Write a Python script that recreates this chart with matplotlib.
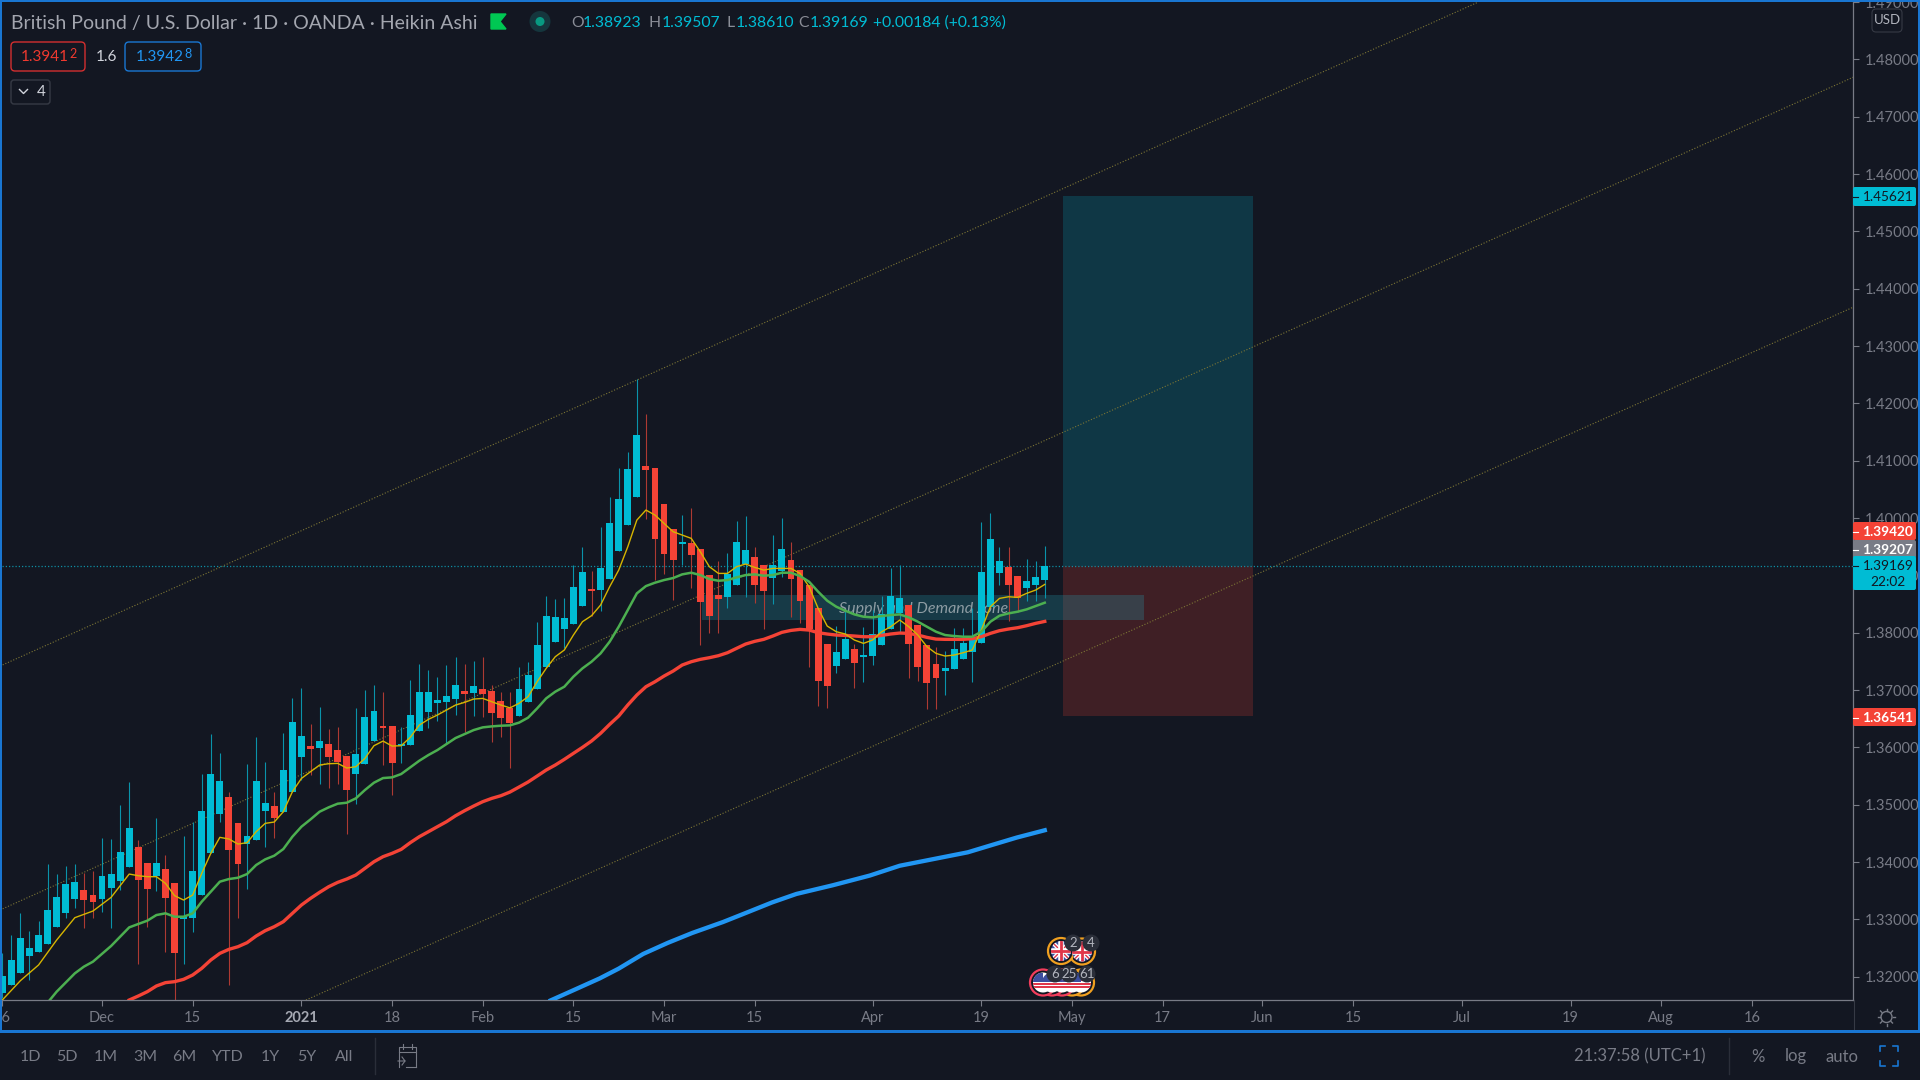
import numpy as np
import matplotlib
matplotlib.use('Agg')
import matplotlib.pyplot as plt
from matplotlib.patches import Rectangle, FancyBboxPatch, Circle

plt.rcParams['font.family'] = ['Lato', 'DejaVu Sans']

# candles, one row per bar: open, high, low, close
opens = [1.31723,1.31857,1.32072,1.32363,1.32432,1.32572,1.32868,1.33112,1.33356,1.33513,
         1.33426,1.33356,1.33548,1.33670,1.33914,1.34263,1.33984,1.33757,1.33880,1.33635,
         1.33014,1.33025,1.33426,1.34158,1.34839,1.35135,1.34682,1.34315,1.34385,1.34891,
         1.34978,1.34873,1.35222,1.35832,1.36024,1.35995,1.36059,1.35954,1.35850,1.35536,
         1.35710,1.36111,1.36373,1.36373,1.36024,1.36042,1.36286,1.36617,1.36774,1.36791,
         1.36844,1.36983,1.36948,1.37018,1.36983,1.36815,1.36681,1.36554,1.36786,1.37013,
         1.37396,1.37832,1.38059,1.38146,1.38460,1.38762,1.38745,1.38931,1.39419,1.39878,
         1.40366,1.40913,1.40878,1.40244,1.39808,1.39541,1.39570,1.39465,1.39006,1.38658,
         1.38617,1.38826,1.39192,1.39326,1.39181,1.38948,1.39070,1.39274,1.39099,1.38832,
         1.38431,1.37803,1.37425,1.37547,1.37722,1.37582,1.37600,1.37792,1.38059,1.38338,
         1.38489,1.38134,1.37786,1.37460,1.37338,1.37361,1.37536,1.37669,1.37815,1.38454,
         1.39035,1.39152,1.38995,1.38785,1.38838,1.38923]
highs = [1.32421,1.32729,1.33107,1.32798,1.32973,1.33967,1.33792,1.33932,1.33967,1.33816,
         1.33845,1.34420,1.34403,1.34995,1.35396,1.34385,1.33984,1.34769,1.34124,1.33635,
         1.34455,1.34705,1.35536,1.36233,1.35902,1.35222,1.34682,1.35710,1.36181,1.35745,
         1.35222,1.36251,1.36861,1.37035,1.36408,1.36704,1.36321,1.36355,1.35850,1.36687,
         1.37001,1.37088,1.36966,1.36373,1.36355,1.37175,1.37454,1.37349,1.37227,1.37436,
         1.37576,1.37454,1.37506,1.37576,1.37088,1.36972,1.36972,1.37396,1.37495,1.38193,
         1.38640,1.38594,1.38605,1.39186,1.39500,1.39082,1.39849,1.40360,1.40866,1.41157,
         1.42418,1.41808,1.40878,1.40244,1.39808,1.40052,1.40169,1.39465,1.39006,1.39256,
         1.39384,1.39954,1.40041,1.39489,1.39181,1.39710,1.40006,1.39587,1.39099,1.38832,
         1.38431,1.37803,1.38117,1.38384,1.37803,1.38105,1.38396,1.38640,1.39128,1.39181,
         1.38489,1.38134,1.37786,1.37757,1.37687,1.38076,1.38076,1.38425,1.39925,1.40081,
         1.39489,1.39489,1.38995,1.39291,1.39245,1.39507]
lows = [1.31624,1.31857,1.32072,1.31944,1.32432,1.32572,1.32868,1.33025,1.33200,1.32851,
        1.33025,1.33130,1.32851,1.33513,1.33914,1.32223,1.32868,1.33496,1.32432,1.31550,
        1.32223,1.32781,1.33426,1.34158,1.34699,1.31857,1.33025,1.33531,1.34385,1.34263,
        1.34420,1.34873,1.35222,1.35431,1.35518,1.35362,1.35292,1.35362,1.34490,1.35013,
        1.35710,1.36111,1.35693,1.35170,1.35728,1.36042,1.36286,1.36338,1.36460,1.36076,
        1.36565,1.36268,1.36547,1.36536,1.36094,1.36187,1.35641,1.36554,1.36786,1.37013,
        1.37396,1.37832,1.37728,1.38146,1.38460,1.38291,1.38373,1.38931,1.39419,1.39878,
        1.40366,1.39977,1.38919,1.39024,1.38570,1.39186,1.38780,1.37780,1.37989,1.38001,
        1.38437,1.38826,1.38628,1.38512,1.38070,1.38495,1.38977,1.38280,1.38164,1.37396,
        1.36728,1.36693,1.37292,1.37547,1.37042,1.37146,1.37443,1.37792,1.38059,1.38018,
        1.37216,1.37164,1.36670,1.36670,1.36920,1.37361,1.37536,1.37146,1.37815,1.38454,
        1.38838,1.38210,1.38367,1.38559,1.38559,1.38610]
closes = [1.32014,1.32293,1.32676,1.32502,1.32729,1.33165,1.33391,1.33618,1.33653,1.33339,
          1.33304,1.33757,1.33792,1.34176,1.34594,1.33688,1.33531,1.33984,1.33374,1.32415,
          1.33060,1.33845,1.34891,1.35536,1.35414,1.34211,1.33967,1.34455,1.35414,1.35030,
          1.34769,1.35606,1.36443,1.36199,1.35972,1.36111,1.35832,1.35745,1.35257,1.35885,
          1.36530,1.36634,1.36338,1.35728,1.36059,1.36565,1.36966,1.36966,1.36826,1.36896,
          1.37088,1.36931,1.37070,1.36931,1.36600,1.36519,1.36432,1.37019,1.37263,1.37786,
          1.38291,1.38280,1.38262,1.38797,1.39059,1.38721,1.39128,1.39919,1.40337,1.40860,
          1.41441,1.40831,1.39628,1.39367,1.39262,1.39587,1.39349,1.38530,1.38297,1.38594,
          1.39024,1.39587,1.39448,1.38838,1.38721,1.39181,1.39465,1.38931,1.38547,1.38059,
          1.37164,1.37077,1.37669,1.37896,1.37466,1.37617,1.37978,1.38326,1.38640,1.38611,
          1.37797,1.37408,1.37129,1.37216,1.37385,1.37716,1.37821,1.37885,1.39064,1.39640,
          1.39245,1.38838,1.38599,1.38907,1.38977,1.39169]

# moving averages, read bar by bar
yellow_x = [0,2,4,6,8,10,12] + list(range(14, 116))
yellow_y = [1.31595,1.31933,1.32206,1.32642,1.33031,1.33147,1.33385,1.33792,1.33763,1.33746,
            1.33746,1.33630,1.33415,1.33339,1.33426,1.33804,1.34153,1.34432,1.34403,1.34315,
            1.34339,1.34530,1.34676,1.34699,1.34879,1.35228,1.35460,1.35577,1.35693,1.35716,
            1.35722,1.35641,1.35664,1.35809,1.36030,1.36111,1.36024,1.36030,1.36175,1.36390,
            1.36489,1.36565,1.36652,1.36739,1.36786,1.36844,1.36855,1.36797,1.36740,1.36690,
            1.36769,1.36885,1.37146,1.37379,1.37582,1.37699,1.37960,1.38193,1.38297,1.38483,
            1.38803,1.39093,1.39500,1.39965,1.40140,1.40052,1.39907,1.39762,1.39704,1.39646,
            1.39413,1.39152,1.39035,1.39035,1.39152,1.39198,1.39140,1.39093,1.39122,1.39122,
            1.39122,1.39035,1.38803,1.38425,1.38117,1.38018,1.37978,1.37873,1.37815,1.37873,
            1.38018,1.38105,1.38222,1.38105,1.37960,1.37757,1.37640,1.37594,1.37611,1.37652,
            1.37699,1.38047,1.38454,1.38599,1.38628,1.38617,1.38687,1.38745,1.38843]
green_x = [5,6,8,9,10,12] + list(range(14, 116))
green_y = [1.31549,1.31741,1.32060,1.32177,1.32264,1.32537,1.32862,1.32921,1.32979,1.33077,
           1.33107,1.33048,1.33048,1.33107,1.33310,1.33484,1.33659,1.33705,1.33728,1.33792,
           1.33949,1.34048,1.34112,1.34228,1.34443,1.34618,1.34745,1.34879,1.34955,1.35019,
           1.35036,1.35112,1.35257,1.35385,1.35466,1.35478,1.35536,1.35652,1.35768,1.35867,
           1.35954,1.36059,1.36164,1.36233,1.36303,1.36350,1.36367,1.36379,1.36385,1.36432,
           1.36519,1.36681,1.36856,1.36972,1.37059,1.37234,1.37379,1.37495,1.37640,1.37844,
           1.38105,1.38396,1.38687,1.38814,1.38873,1.38919,1.38954,1.39018,1.39047,1.39006,
           1.38937,1.38907,1.38919,1.38966,1.39006,1.39018,1.38995,1.39006,1.39047,1.39047,
           1.38989,1.38890,1.38716,1.38559,1.38454,1.38384,1.38320,1.38280,1.38268,1.38291,
           1.38309,1.38320,1.38268,1.38193,1.38105,1.38018,1.37960,1.37943,1.37931,1.37931,
           1.38018,1.38193,1.38297,1.38338,1.38367,1.38408,1.38466,1.38524]
red_x = list(range(14, 116))
red_y = [1.31595,1.31665,1.31741,1.31840,1.31898,1.31915,1.31956,1.32031,1.32148,1.32293,
         1.32409,1.32479,1.32525,1.32595,1.32711,1.32804,1.32874,1.32961,1.33107,1.33252,
         1.33368,1.33473,1.33571,1.33647,1.33705,1.33775,1.33891,1.34007,1.34095,1.34153,
         1.34222,1.34339,1.34443,1.34530,1.34618,1.34705,1.34809,1.34897,1.34978,1.35054,
         1.35112,1.35158,1.35222,1.35309,1.35397,1.35501,1.35606,1.35693,1.35792,1.35897,
         1.36001,1.36112,1.36246,1.36402,1.36548,1.36740,1.36914,1.37059,1.37146,1.37245,
         1.37332,1.37437,1.37495,1.37536,1.37565,1.37600,1.37652,1.37728,1.37803,1.37850,
         1.37885,1.37943,1.38007,1.38041,1.38059,1.38047,1.38001,1.37978,1.37960,1.37954,
         1.37943,1.37931,1.37931,1.37954,1.37978,1.37995,1.37989,1.37960,1.37919,1.37890,
         1.37885,1.37885,1.37885,1.37896,1.37931,1.37989,1.38036,1.38065,1.38088,1.38123,
         1.38164,1.38198]
blue_x = [60.5,63.2,65.9,68,70.7,73.4,76.1,79.5,82.2,84.9,87.6,91.6,95.7,99,102.4,106.5,109.2,111.9,115]
blue_y = [1.31589,1.31780,1.31972,1.32143,1.32399,1.32591,1.32764,1.32955,1.33125,1.33296,
          1.33445,1.33596,1.33766,1.33937,1.34043,1.34171,1.34300,1.34428,1.34556]

# channel lines: bar and price of two anchors
channel_x = [[-0.25, 162.8], [-0.25, 204.2], [33.5, 204.2]]
channel_y = [[1.37419, 1.48997], [1.33165, 1.47690], [1.31595, 1.43679]]

# long position and zone
pos_x = [117, 138]
pos_top, pos_entry, pos_stop = 1.45621, 1.39169, 1.36541
zone_x = [77.2, 125.9]
zone_y = [1.38221, 1.38657]

price_ticks = [1.32 + 0.01*i for i in range(18)]
date_ticks = [0, 11, 21, 33, 43, 53, 63, 73, 83, 96, 108, 118, 128, 139, 149, 161, 173, 183, 193]
date_labels = ['16', 'Dec', '15', '2021', '18', 'Feb', '15', 'Mar', '15', 'Apr', '19', 'May',
               '17', 'Jun', '15', 'Jul', '19', 'Aug', '16']
ranges = ['1D', '5D', '1M', '3M', '6M', 'YTD', '1Y', '5Y', 'All']
range_pos = [30, 67, 106, 145, 184, 228, 270, 307, 344]

BG = '#131722'
CYAN = '#00bcd4'
RED = '#f44336'
GREY = '#787b86'

W, H = 1920, 1080
fig = plt.figure(figsize=(19.2, 10.8), dpi=100, facecolor=BG)
ax = fig.add_axes([2/W, 1 - 1000/H, (1853 - 2)/W, (1000 - 2)/H], facecolor=BG)
ax.set_xlim((2 - 2.3)/9.065, (1853 - 2.3)/9.065)
ax.set_ylim(1.40 - 482/5735, 1.40 + 516/5735)

for s in ['left', 'top']:
    ax.spines[s].set_visible(False)
for s in ['right', 'bottom']:
    ax.spines[s].set_color(GREY)
    ax.spines[s].set_linewidth(0.9)

# drawings under the candles
ax.add_patch(Rectangle((pos_x[0], pos_entry), pos_x[1] - pos_x[0], pos_top - pos_entry,
                       fc='#00bcd4', alpha=0.2, lw=0, zorder=1))
ax.add_patch(Rectangle((pos_x[0], pos_stop), pos_x[1] - pos_x[0], pos_entry - pos_stop,
                       fc='#f44336', alpha=0.2, lw=0, zorder=1))
ax.add_patch(Rectangle((zone_x[0], zone_y[0]), zone_x[1] - zone_x[0], zone_y[1] - zone_y[0],
                       fc='#26a3b8', alpha=0.25, lw=0, zorder=1.5))
ax.text(101.6, 1.38416, 'Supply and Demand zone', color='#8d9ca3', style='italic',
        fontsize=11.5, ha='center', va='center', zorder=1.6)
for cx, cy in zip(channel_x, channel_y):
    ax.plot(cx, cy, color='#7d7635', lw=0.8, ls=(0, (1, 1.6)), zorder=1.7)
ax.axhline(closes[-1], color='#0e8ea3', lw=0.9, ls=(0, (1, 1.6)), zorder=1.8)

# candles
idx = np.arange(len(opens))
op, hi, lo, cl = map(np.array, (opens, highs, lows, closes))
cols = np.where(cl >= op, CYAN, RED)
wick_cols = np.where(cl >= op, '#0a93aa', '#ad3a33')
ax.vlines(idx, lo, hi, colors=wick_cols, lw=0.8, zorder=2)
ax.bar(idx, np.abs(cl - op), bottom=np.minimum(op, cl), width=0.76, color=cols, lw=0, zorder=3)

# moving averages
ax.plot(blue_x, blue_y, color='#2196f3', lw=3.1, zorder=4)
ax.plot(red_x, red_y, color=RED, lw=2.4, zorder=4.1)
ax.plot(green_x, green_y, color='#4caf50', lw=1.8, zorder=4.2)
ax.plot(yellow_x, yellow_y, color='#d6b500', lw=1.0, zorder=4.15)

ax.yaxis.tick_right()
ax.set_yticks(price_ticks)
ax.set_yticklabels(['%.5f' % p for p in price_ticks], va='center_baseline')
ax.set_xticks(date_ticks)
ax.set_xticklabels(date_labels)
ax.tick_params(axis='y', colors=GREY, length=4.5, width=0.8, labelsize=10.5, pad=4)
ax.tick_params(axis='x', colors=GREY, length=4.5, width=0.8, labelsize=10.5, pad=3.5)
for t in ax.get_xticklabels():
    if t.get_text() == '2021':
        t.set_color('#a6a9b3')
        t.set_fontweight('bold')

# screen furniture in pixel coordinates
ui = fig.add_axes([0, 0, 1, 1], facecolor='none', zorder=10)
ui.set_xlim(0, W)
ui.set_ylim(H, 0)
ui.axis('off')

def tag(y0, y1, color, lines, tcolor):
    ui.add_patch(FancyBboxPatch((1853, y0), 63, y1 - y0, boxstyle='round,pad=0,rounding_size=2',
                                fc=color, ec='none', zorder=2))
    ui.plot([1853, 1858], [y0 + 9.5, y0 + 9.5], color=tcolor, lw=0.8, zorder=3)
    for k, s in enumerate(lines):
        ui.text(1888, y0 + 10 + k*16.5, s, color=tcolor, fontsize=9.8, ha='center', va='center',
                fontweight='bold' if tcolor == 'white' else 'normal', zorder=3)

tag(187, 206, CYAN, ['1.45621'], BG)
tag(522, 540, RED, ['1.39420'], 'white')
tag(540, 558, GREY, ['1.39207'], 'white')
tag(556, 590, CYAN, ['1.39169', '22:02'], BG)
tag(708, 726, RED, ['1.36541'], 'white')

# USD box hides the top tick label
ui.add_patch(FancyBboxPatch((1872, 9), 30, 23, boxstyle='round,pad=0,rounding_size=4',
                            fc=BG, ec='#363a45', lw=0.8, zorder=2))
ui.text(1887, 20.5, 'USD', color='#b2b5be', fontsize=9.5, ha='center', va='center', zorder=3)

# header
HEAD = 14
ui.text(11, 23, 'British Pound / U.S. Dollar \u00b7 1D \u00b7 OANDA \u00b7 Heikin Ashi', color='#a3a6af',
        fontsize=HEAD, ha='left', va='center')
ui.fill([491, 506, 500, 506, 491], [14, 14, 21.5, 29, 29], color='#00c853')
ui.add_patch(Circle((540, 21.5), 10.5, fc='#15363d', ec='none'))
ui.add_patch(Circle((540, 21.5), 4.5, fc='#089981', ec='none'))
ohlc_letters = [('O', 571), ('H', 649), ('L', 727), ('C', 798)]
ohlc_values = [('1.38923', 583), ('1.39507', 662), ('1.38610', 736), ('1.39169', 810),
               ('+0.00184 (+0.13%)', 873)]
for s, x in ohlc_letters:
    ui.text(x, 23, s, color='#8a8d97', fontsize=11.3, ha='left', va='center')
for s, x in ohlc_values:
    ui.text(x, 23, s, color=CYAN, fontsize=11.3, ha='left', va='center')

ui.add_patch(FancyBboxPatch((11, 42), 74, 29, boxstyle='round,pad=0,rounding_size=4',
                            fc='none', ec='#d32f2f', lw=1))
ui.text(21, 57, '1.3941', color='#f0392f', fontsize=11, ha='left', va='center')
ui.text(69, 54, '2', color='#f0392f', fontsize=9, ha='left', va='center')
ui.text(106, 57, '1.6', color='#d1d4dc', fontsize=11, ha='center', va='center')
ui.add_patch(FancyBboxPatch((125, 42), 76, 29, boxstyle='round,pad=0,rounding_size=4',
                            fc='none', ec='#1976d2', lw=1))
ui.text(136, 57, '1.3942', color='#2196f3', fontsize=11, ha='left', va='center')
ui.text(184, 54, '8', color='#2196f3', fontsize=9, ha='left', va='center')
ui.add_patch(FancyBboxPatch((11, 80), 39, 24, boxstyle='round,pad=0,rounding_size=3',
                            fc='none', ec='#363a45', lw=1))
ui.plot([19.5, 23.5, 27.5], [89.5, 93.5, 89.5], color='#d1d4dc', lw=1)
ui.text(41, 92, '4', color='#d1d4dc', fontsize=11, ha='center', va='center')

# economic event flags
def uk_flag(x, y, ring):
    ui.add_patch(Circle((x, y), 13, fc=BG, ec=ring, lw=1.6, zorder=4))
    disc = Circle((x, y), 10, fc='#3d4f9f', ec='none', zorder=4.1)
    ui.add_patch(disc)
    for a, b, c, lw in [((-10, -10), (10, 10), 'white', 3), ((-10, 10), (10, -10), 'white', 3),
                        ((-10, -10), (10, 10), '#e0364a', 1), ((-10, 10), (10, -10), '#e0364a', 1),
                        ((-10, 0), (10, 0), 'white', 4), ((0, -10), (0, 10), 'white', 4),
                        ((-10, 0), (10, 0), '#e0364a', 2), ((0, -10), (0, 10), '#e0364a', 2)]:
        ln, = ui.plot([x + a[0], x + b[0]], [y + a[1], y + b[1]], color=c, lw=lw, zorder=4.2)
        ln.set_clip_path(disc)

def us_flag(x, y, ring):
    ui.add_patch(Circle((x, y), 13, fc=BG, ec=ring, lw=1.6, zorder=4))
    disc = Circle((x, y), 10, fc='white', ec='none', zorder=4.1)
    ui.add_patch(disc)
    for k in range(3):
        r = ui.add_patch(Rectangle((x - 10, y + 0 + k*3.4 - 3), 20, 1.6, fc='#e0364a', ec='none', zorder=4.2))
        r.set_clip_path(disc)
    r = ui.add_patch(Rectangle((x - 10, y - 10), 10, 9, fc='#3d4f9f', ec='none', zorder=4.3))
    r.set_clip_path(disc)

uk_flag(1082, 951.5, '#f0a020')
uk_flag(1061, 951, '#f0a020')
for x, ring in [(1081, '#f0a020'), (1072, '#f0a020'), (1062, '#f23d5c'), (1052, '#f23d5c'), (1043, '#f23d5c')]:
    us_flag(x, 982.5, ring)

for x, y, s in [(1073, 943, '2'), (1091, 943, '4'), (1055, 974, '6'), (1069, 974, '25'), (1087, 974, '61')]:
    ui.add_patch(Circle((x, y), 8.5, fc='#2a2e39', ec='none', zorder=5))
    ui.text(x, y, s, color='#b2b5be', fontsize=9.5, ha='center', va='center', zorder=6)

# gear in the axis corner
ui.plot([1854, 1854], [1000, 1031], color='#363a45', lw=0.8)
ui.add_patch(Circle((1886.5, 1017), 5.5, fc='none', ec=GREY, lw=1))
for a in np.arange(0, 360, 45):
    ux, uy = np.cos(np.radians(a)), np.sin(np.radians(a))
    ui.plot([1886.5 + 6.5*ux, 1886.5 + 8.5*ux], [1017 + 6.5*uy, 1017 + 8.5*uy], color=GREY, lw=1)

# blue frame
for xy, w, h in [((0, 0), W, 2), ((0, 1030), W, 2.5), ((0, 0), 2, 1032), ((W - 2, 0), 2, 1032)]:
    ui.add_patch(Rectangle(xy, w, h, fc='#1976d2', ec='none', zorder=8))

# bottom toolbar
for s, x in zip(ranges, range_pos):
    ui.text(x, 1057, s, color='#787b86', fontsize=11.5, ha='center', va='center')
ui.plot([375, 375], [1038, 1074], color='#2a2e39', lw=1)
ui.plot([399, 399, 416, 416], [1067, 1047, 1047, 1067], color=GREY, lw=0.8)
ui.plot([399, 416], [1052, 1052], color=GREY, lw=0.8)
ui.plot([403, 403], [1044, 1049], color=GREY, lw=0.8)
ui.plot([412, 412], [1044, 1049], color=GREY, lw=0.8)
ui.plot([406, 416], [1067, 1067], color=GREY, lw=0.8)
ui.plot([398, 405, 402], [1061, 1061, 1057], color=GREY, lw=0.8)
ui.plot([405, 402], [1061, 1065], color=GREY, lw=0.8)
ui.text(1640, 1056.5, '21:37:58 (UTC+1)', color='#787b86', fontsize=12, ha='center', va='center')
ui.plot([1728.5, 1728.5], [1038, 1074], color='#2a2e39', lw=1)
ui.text(1758, 1056.5, '%', color='#787b86', fontsize=12, ha='center', va='center')
ui.text(1796, 1056.5, 'log', color='#787b86', fontsize=12, ha='center', va='center')
ui.text(1842, 1056.5, 'auto', color='#787b86', fontsize=12, ha='center', va='center')
for sx, sy in [(-1, -1), (1, -1), (-1, 1), (1, 1)]:
    ui.plot([1889 + sx*9, 1889 + sx*9, 1889 + sx*4], [1056 + sy*5, 1056 + sy*10, 1056 + sy*10],
            color='#1976d2', lw=1.2)

fig.savefig('out.png', dpi=100, facecolor=BG)
